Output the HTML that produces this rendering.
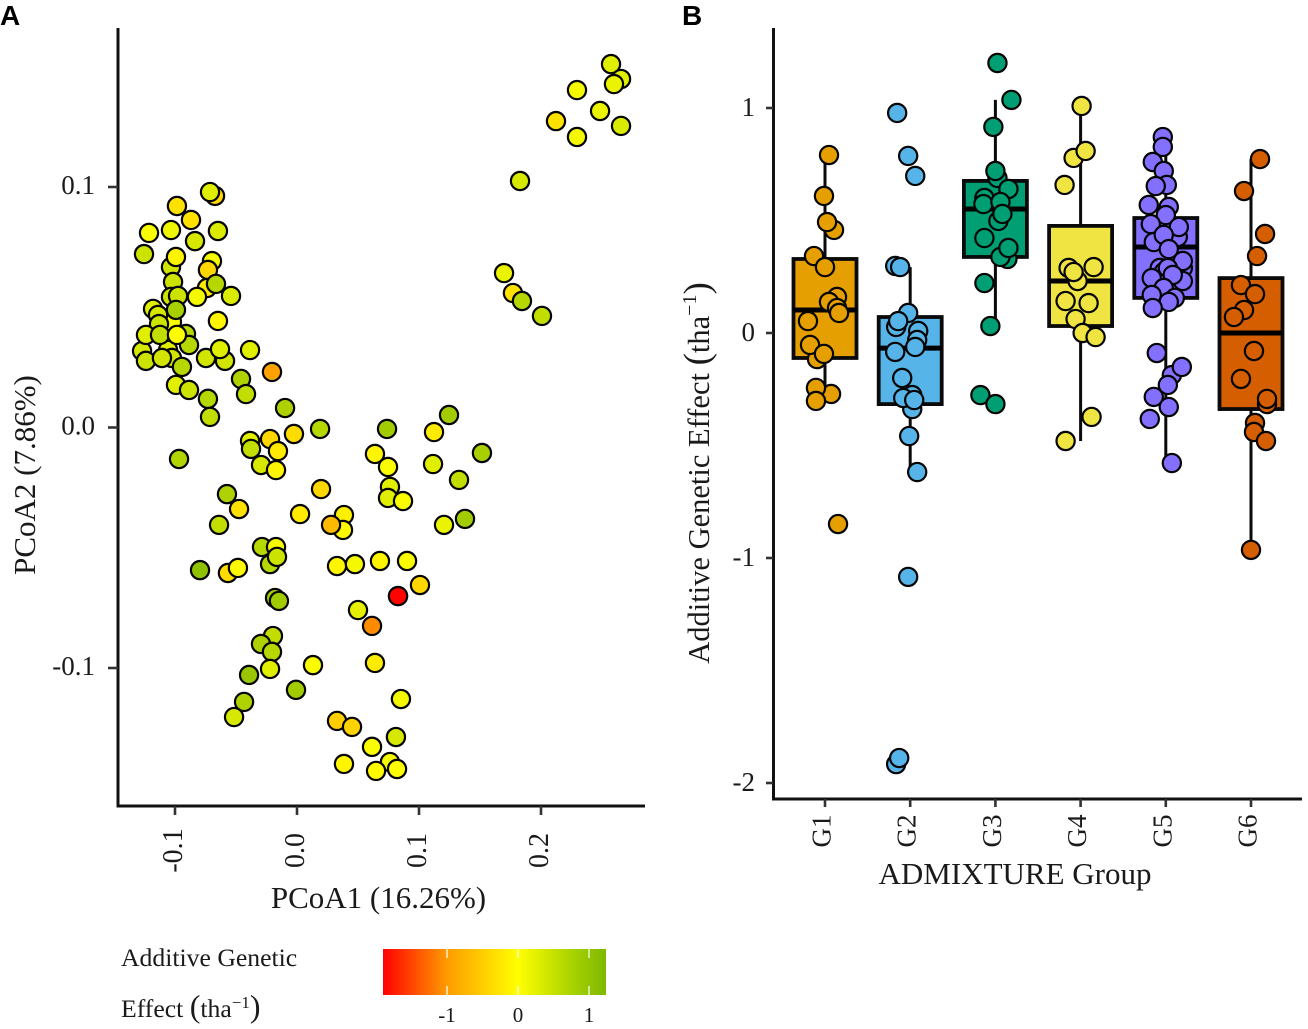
<!DOCTYPE html>
<html>
<head>
<meta charset="utf-8">
<title>PCoA and additive genetic effect</title>
<style>
html,body{margin:0;padding:0;background:#fff;width:1308px;height:1029px;overflow:hidden}
svg{display:block}
text{font-family:"Liberation Serif",serif;fill:#1a1a1a}
</style>
</head>
<body>
<svg id="chart" width="1308" height="1029" viewBox="0 0 1308 1029" xmlns="http://www.w3.org/2000/svg">
<defs>
<linearGradient id="grad" x1="0" x2="1" y1="0" y2="0">
<stop offset="0" stop-color="#ff0000"/>
<stop offset="0.29" stop-color="#ff9c00"/>
<stop offset="0.605" stop-color="#ffff00"/>
<stop offset="0.86" stop-color="#a4d000"/>
<stop offset="1" stop-color="#7fb800"/>
</linearGradient>
</defs>
<g id="panelA"></g>
<g id="panelB"></g>
<text x="0" y="25" style="font-family:'Liberation Sans',sans-serif;font-weight:bold;font-size:28px;fill:#000">A</text>
<text x="682" y="25" style="font-family:'Liberation Sans',sans-serif;font-weight:bold;font-size:28px;fill:#000">B</text>
<text x="378.5" y="908" text-anchor="middle" font-size="31">PCoA1 (16.26%)</text>
<text transform="translate(35,475) rotate(-90)" text-anchor="middle" font-size="31">PCoA2 (7.86%)</text>
<text x="1015" y="884" text-anchor="middle" font-size="31">ADMIXTURE Group</text>
<text transform="translate(709,473) rotate(-90)" text-anchor="middle" font-size="30.5">Additive Genetic Effect <tspan font-size="37">(</tspan>tha<tspan font-size="20" dy="-13">−1</tspan><tspan font-size="37" dy="13">)</tspan></text>
<text x="121" y="966" font-size="25.7">Additive Genetic</text>
<text x="121" y="1017" font-size="25.7">Effect <tspan font-size="32">(</tspan>tha<tspan font-size="17" dy="-9">−1</tspan><tspan font-size="32" dy="9">)</tspan></text>
<rect x="383" y="949" width="223" height="46" fill="url(#grad)"/>
<g id="legendTicks"></g>
</svg>
<script>
// Panel A data
const pcoa1 = [.2574,.2656,.2598,.2295,.2484,.2656,.2123,.2295,.1828,.1697,.1770,.1844,.2008,
-.0672,-.0713,-.0984,-.0869,-.1213,-.1033,-.0648,-.0836,-.1254,-.1033,-.0992,-.0697,-.0730,-.1016,-.0738,-.0664,-.0541,-.1033,-.0975,-.0820,-.1025,-.1180,-.1139,-.1131,-.0992,-.0648,-.0910,-.0885,-.1057,-.1025,-.1270,-.1238,-.1107,-.1238,-.1123,-.0984,-.0590,-.0746,-.0631,-.0385,-.0205,-.0943,-.0459,-.0418,-.0992,-.0885,-.0730,-.0713,-.0098,
-.0385,-.0377,-.0221,-.0156,-.0295,-.0172,-.0025,.0189,-.0967,.0738,.1246,.1123,.1516,.0639,.0746,.1115,.1328,.0762,.0746,.0869,.0197,.0025,.0385,.0377,.0279,.1205,.1377,-.0574,-.0475,-.0639,-.0287,-.0172,-.0221,-.0164,-.0795,-.0566,-.0484,.0328,.0475,.0680,.0902,.1008,-.0180,-.0148,.0500,.0828,.0828,.0615,-.0197,-.0295,-.0205,-.0221,.0131,.0639,-.0393,-.0434,-.0008,-.0516,.0852,.0328,.0451,.0811,.0615,.0385,.0762,.0648,.0820];
const pcoa2 = [.1511,.1449,.1428,.1403,.1316,.1254,.1274,.1208,.1025,.0642,.0559,.0526,.0464,
.0963,.0979,.0921,.0863,.0809,.0821,.0817,.0775,.0721,.0667,.0709,.0692,.0655,.0605,.0580,.0597,.0547,.0543,.0547,.0543,.0439,.0493,.0468,.0430,.0489,.0443,.0389,.0343,.0322,.0289,.0318,.0277,.0289,.0385,.0385,.0385,.0277,.0289,.0326,.0322,.0231,.0252,.0202,.0139,.0177,.0156,.0119,.0044,.0081,
-.0056,-.0089,-.0048,-.0098,-.0156,-.0177,-.0027,-.0006,-.0131,-.0006,.0052,-.0019,-.0106,-.0110,-.0164,-.0152,-.0218,-.0247,-.0293,-.0306,-.0256,-.0360,-.0364,-.0426,-.0405,-.0405,-.0380,-.0277,-.0339,-.0405,-.0497,-.0497,-.0568,-.0538,-.0593,-.0605,-.0584,-.0576,-.0568,-.0555,-.0555,-.0655,-.0709,-.0721,-.0759,-.0701,-.0701,-.0825,-.0867,-.0900,-.0933,-.1004,-.0988,-.0979,-.1029,-.1141,-.1091,-.1204,-.1129,-.1220,-.1245,-.1287,-.1328,-.1399,-.1391,-.1428,-.1420];
const effect = [.3,.3,.2,.1,.2,.35,-.3,.1,.4,.2,-.3,.7,.6,
-.4,.3,-.3,-.3,.05,.15,.35,.4,.5,.45,-.1,.1,-.4,.5,-.2,.7,.35,.5,.5,.1,.0,.3,.4,.5,.85,-.1,.7,.7,.3,.45,.4,.5,.45,.3,.6,.0,.45,.45,.3,.3,-.95,.7,.8,.6,.3,.5,.7,.6,.8,
.3,.6,-.4,-.2,.4,-.1,-.35,.7,.75,.9,.9,-.2,.85,-.1,.05,.3,.6,.3,.3,.05,-.4,-.2,-.15,-.05,-.7,.2,.9,.8,-.3,.6,.7,.1,.7,.5,1.1,-.35,-.05,-.1,.1,-.1,.05,-.4,.9,.9,.25,-.6,-1.9,-1.1,.6,.8,.7,.3,.05,-.2,1.0,.8,.9,.4,.1,-.5,-.45,.4,.05,-.1,.1,-.05,.0];
const xTicksA = [-0.1,0,0.1,0.2];
const xTickLabelsA = ["-0.1","0.0","0.1","0.2"];
const yTicksA = [0.1,0,-0.1];
const yTickLabelsA = ["0.1","0.0","-0.1"];

// Panel B data
const groups = ["G1","G2","G3","G4","G5","G6"];
const groupColors = ["#E69F00","#56B4E9","#009E73","#F0E442","#8470FF","#D55E00"];
const boxQ1 = [-.111,-.316,.338,.031,.156,-.338];
const boxMedian = [.102,-.067,.551,.231,.382,0];
const boxQ3 = [.329,.071,.676,.476,.511,.244];
const whiskerLow = [-.302,-.618,.031,-.48,-.578,-.964];
const whiskerHigh = [.791,.293,1.036,1.009,.871,.773];
const yTicksB = [1,0,-1,-2];
const yTickLabelsB = ["1","0","-1","-2"];
const g1Values = [.791,.609,.458,.493,.342,.293,.160,.138,.111,.089,.053,-.116,-.053,-.093,-.271,-.244,-.302,-.849];
const g1Jitter = [.047,-.012,.106,.024,-.129,0,.141,.047,.141,.165,-.2,-.094,-.176,-.012,.071,-.106,-.106,.153];
const g2Values = [.978,.787,.698,.298,.293,.089,.027,.053,.009,-.031,-.062,-.084,-.2,-.276,-.338,-.289,-.298,-.458,-.618,-1.084,-1.916,-1.889];
const g2Jitter = [-.153,-.024,.059,-.176,-.118,-.024,-.165,-.141,.094,.082,.059,-.176,-.094,.024,.024,-.082,.047,-.012,.082,-.024,-.165,-.129];
const g3Values = [1.2,1.036,.916,.689,.72,.64,.6,.573,.582,.498,.529,.422,.329,.338,.378,.222,.031,-.276,-.316];
const g3Jitter = [.024,.188,-.024,.024,0,.153,-.129,-.141,.059,.035,.082,-.129,.141,.059,.153,-.129,-.059,-.176,0];
const g4Values = [1.009,.778,.809,.658,.289,.231,.271,.293,.142,.133,.062,0,-.018,-.373,-.48];
const g4Jitter = [.012,-.082,.059,-.188,-.141,-.035,-.082,.153,-.176,.094,-.059,.024,.176,.129,-.176];
const g5Values = [.871,.827,.76,.72,.658,.653,.569,.56,.524,.484,.427,.471,.404,.436,.373,.289,.32,.289,.271,.289,.231,.258,.244,.2,.156,.169,.138,.111,-.089,-.187,-.151,-.231,-.284,-.329,-.382,-.578];
const g5Jitter = [-.035,-.035,-.153,-.024,.012,-.118,-.2,.035,0,-.176,.141,.153,-.141,-.024,.035,.2,.2,-.071,-.024,.024,.2,.082,-.165,-.024,.106,-.165,.035,-.153,-.106,.071,.188,.024,-.141,.035,-.188,.071];
const g6Values = [.773,.631,.44,.342,.213,.173,.102,.071,-.08,-.204,-.316,-.293,-.4,-.44,-.48,-.964];
const g6Jitter = [.106,-.082,.165,.071,-.118,.047,-.082,-.2,.035,-.118,.188,.188,.047,.035,.176,0];
const groupValues = [g1Values,g2Values,g3Values,g4Values,g5Values,g6Values];
const groupJitter = [g1Jitter,g2Jitter,g3Jitter,g4Jitter,g5Jitter,g6Jitter];

// Legend ticks
const legendTicks = [-1,0,1];
const legendLabels = ["-1","0","1"];

// Axis functions
function xA(v){return 297+v*1220;}
function yA(v){return 427.5-v*2405;}
function xB(i){return 825+i*85.2;}
function yB(v){return 333-v*225;}
function xLegend(v){return 518+v*71;}

function colorFor(v){
  const lo=[[-1.92,[255,0,0]],[-1,[255,156,0]],[0,[255,255,0]],[1.25,[127,184,0]]];
  let k=0;
  while(k<lo.length-2 && v>lo[k+1][0]) k++;
  const a=lo[k],b=lo[k+1];
  let t=(v-a[0])/(b[0]-a[0]);
  t=Math.max(0,Math.min(1,t));
  const c=a[1].map((x,i)=>Math.round(x+(b[1][i]-x)*t));
  return 'rgb('+c.join(',')+')';
}

const NS='http://www.w3.org/2000/svg';
function mk(parent,tag,attrs,txt){
  const e=document.createElementNS(NS,tag);
  for(const k in attrs)e.setAttribute(k,attrs[k]);
  if(txt!==undefined)e.textContent=txt;
  parent.appendChild(e);
  return e;
}

const A=document.getElementById('panelA');
const B=document.getElementById('panelB');

// Panel A axes
let el=mk(A,'line',{x1:118,y1:28,x2:118,y2:807.5,stroke:'#111','stroke-width':3});


el=mk(A,'line',{x1:116.5,y1:806,x2:645,y2:806,stroke:'#111','stroke-width':3});


xTicksA.forEach((v,i)=>{
  const t=mk(A,'line',{x1:xA(v),y1:806,x2:xA(v),y2:815,stroke:'#333','stroke-width':2.6});
  
  
  const l=mk(A,'text',{transform:'translate('+(xA(v)+7)+',850.5) rotate(-90)','text-anchor':'middle','font-size':28},xTickLabelsA[i]);
  
  
});
yTicksA.forEach((v,i)=>{
  const t=mk(A,'line',{x1:108,y1:yA(v),x2:118,y2:yA(v),stroke:'#333','stroke-width':2.6});
  
  
  const l=mk(A,'text',{x:95,y:yA(v)+7,'text-anchor':'end','font-size':27},yTickLabelsA[i]);
  
  
});
// Panel A points
pcoa1.forEach((v,i)=>{
  const c=mk(A,'circle',{cx:xA(v),cy:yA(pcoa2[i]),r:9.1,fill:colorFor(effect[i]),stroke:'#050505','stroke-width':2.2});
  
  
});

// Panel B axes
el=mk(B,'line',{x1:773.5,y1:28,x2:773.5,y2:800.5,stroke:'#111','stroke-width':3});


el=mk(B,'line',{x1:772,y1:799,x2:1302,y2:799,stroke:'#111','stroke-width':3});


yTicksB.forEach((v,i)=>{
  const t=mk(B,'line',{x1:766,y1:yB(v),x2:773,y2:yB(v),stroke:'#333','stroke-width':2.6});
  
  
  const l=mk(B,'text',{x:755,y:yB(v)+8,'text-anchor':'end','font-size':27},yTickLabelsB[i]);
  
  
});
groups.forEach((g,i)=>{
  const x=xB(i);
  const t=mk(B,'line',{x1:x,y1:799,x2:x,y2:807,stroke:'#333','stroke-width':2.6});
  
  
  const l=mk(B,'text',{transform:'translate('+(x+5.5)+',847.5) rotate(-90)','font-size':27},g);
  
  
  const wh=mk(B,'line',{x1:x,y1:yB(whiskerHigh[i]),x2:x,y2:yB(whiskerLow[i]),stroke:'#0a0a0a','stroke-width':3});
  
  
  const r=mk(B,'rect',{x:x-31.5,y:yB(boxQ3[i]),width:63,height:yB(boxQ1[i])-yB(boxQ3[i]),fill:groupColors[i],stroke:'#0a0a0a','stroke-width':3.8});
  
  
  const m=mk(B,'line',{x1:x-31.5,y1:yB(boxMedian[i]),x2:x+31.5,y2:yB(boxMedian[i]),stroke:'#000','stroke-width':5});
  
  
});
groups.forEach((g,i)=>{
  groupValues[i].forEach((v,j)=>{
    const c=mk(B,'circle',{cx:xB(i+groupJitter[i][j]),cy:yB(v),r:9.1,fill:groupColors[i],stroke:'#050505','stroke-width':2.2});
    
    
  });
});

// Legend ticks
const LT=document.getElementById('legendTicks');
legendTicks.forEach((v,i)=>{
  const a=mk(LT,'line',{x1:xLegend(v),y1:949,x2:xLegend(v),y2:958,stroke:'#fff','stroke-width':1.2});
  
  
  const b=mk(LT,'line',{x1:xLegend(v),y1:986,x2:xLegend(v),y2:995,stroke:'#fff','stroke-width':1.2});
  
  
  const l=mk(LT,'text',{x:xLegend(v),y:1022,'text-anchor':'middle','font-size':21},legendLabels[i]);
  
  
});
</script>
</body>
</html>
